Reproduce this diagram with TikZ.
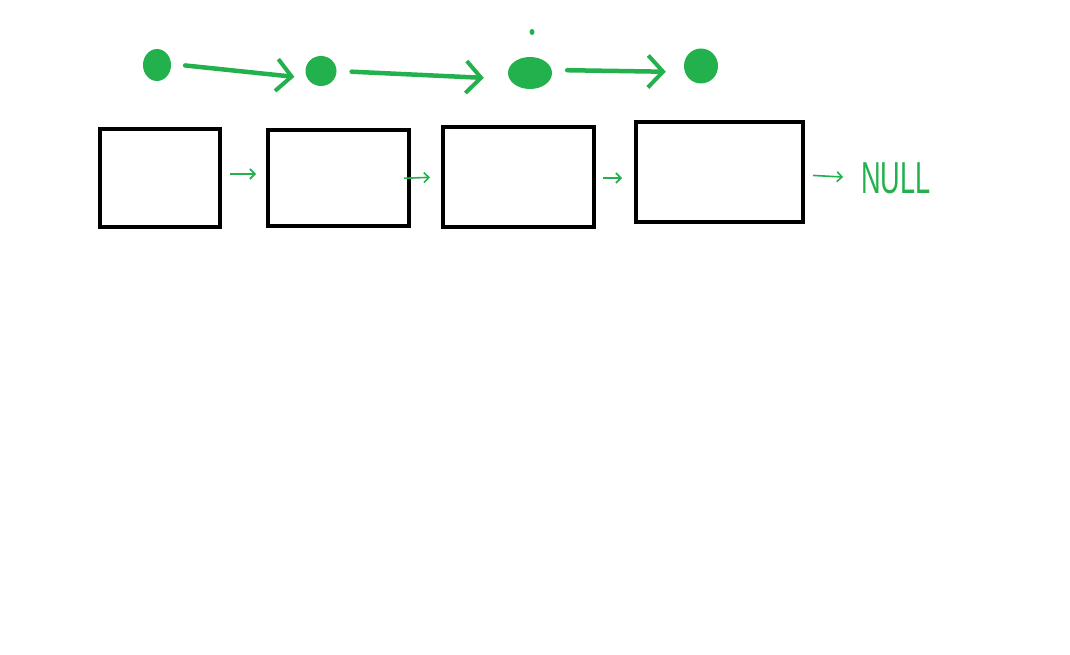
\documentclass[tikz,border=0pt]{standalone}
\usepackage{fontspec}
\usetikzlibrary{arrows.meta,shapes.geometric}
\definecolor{paintgreen}{HTML}{22B14C}
\setsansfont{Liberation Sans}

\begin{document}
\begin{tikzpicture}[x=1pt, y=-1pt,
  cell/.style={draw, line width=4pt, rectangle, inner sep=0pt},
  dot/.style={fill=paintgreen, ellipse, inner sep=0pt},
  hop/.style={paintgreen, line width=4.5pt, line cap=round, -{Straight Barb[length=15pt, width=32pt, line width=4pt]}},
  link/.style={paintgreen, line width=1.6pt, -{Straight Barb[length=5pt, width=10pt]}}]
\useasboundingbox (0,0) rectangle (1070,655);
\node[dot, minimum width=28pt, minimum height=32pt] (d1) at (157,65) {};
\node[dot, minimum width=31pt, minimum height=30pt] (d2) at (321,71) {};
\node[dot, minimum width=44pt, minimum height=32pt] (d3) at (530,73) {};
\node[dot, minimum width=34pt, minimum height=35pt] (d4) at (701,66) {};
\node[dot, minimum width=5pt, minimum height=6pt] (tick) at (532,32) {};

\node[cell, minimum width=120pt, minimum height=98pt] (b1) at (160,178) {};
\node[cell, minimum width=141pt, minimum height=96pt] (b2) at (338.5,178) {};
\node[cell, minimum width=151pt, minimum height=100pt] (b3) at (518.5,177) {};
\node[cell, minimum width=167pt, minimum height=100pt] (b4) at (719.5,172) {};
\node[paintgreen, font=\sffamily\fontsize{32}{32}\selectfont, inner sep=0pt, xscale=0.85, yscale=1.4] (null) at (896,178) {NULL};

\draw[hop, shorten <=14pt, shorten >=11pt] ([yshift=1pt]d1.east) -- ([yshift=-7pt]d2.west);
\draw[hop, shorten <=15pt, shorten >=24pt] (d2.east) -- ([yshift=-6pt]d3.west);
\draw[hop, shorten <=15pt, shorten >=18pt] ([yshift=3pt]d3.east) -- ([yshift=-6pt]d4.west);

\draw[link, shorten <=8pt, shorten >=10pt] ([yshift=4pt]b1.east) -- ([yshift=4pt]b2.west);
\draw[link, shorten <=-7pt, shorten >=11pt] (b2.east) -- (b3.west);
\draw[link, shorten <=7pt, shorten >=12pt] ([yshift=-1pt]b3.east) -- ([yshift=-6pt]b4.west);
\draw[link, shorten <=8pt, shorten >=18pt] ([yshift=-3pt]b4.east) -- (null.west);
\end{tikzpicture}
\end{document}
